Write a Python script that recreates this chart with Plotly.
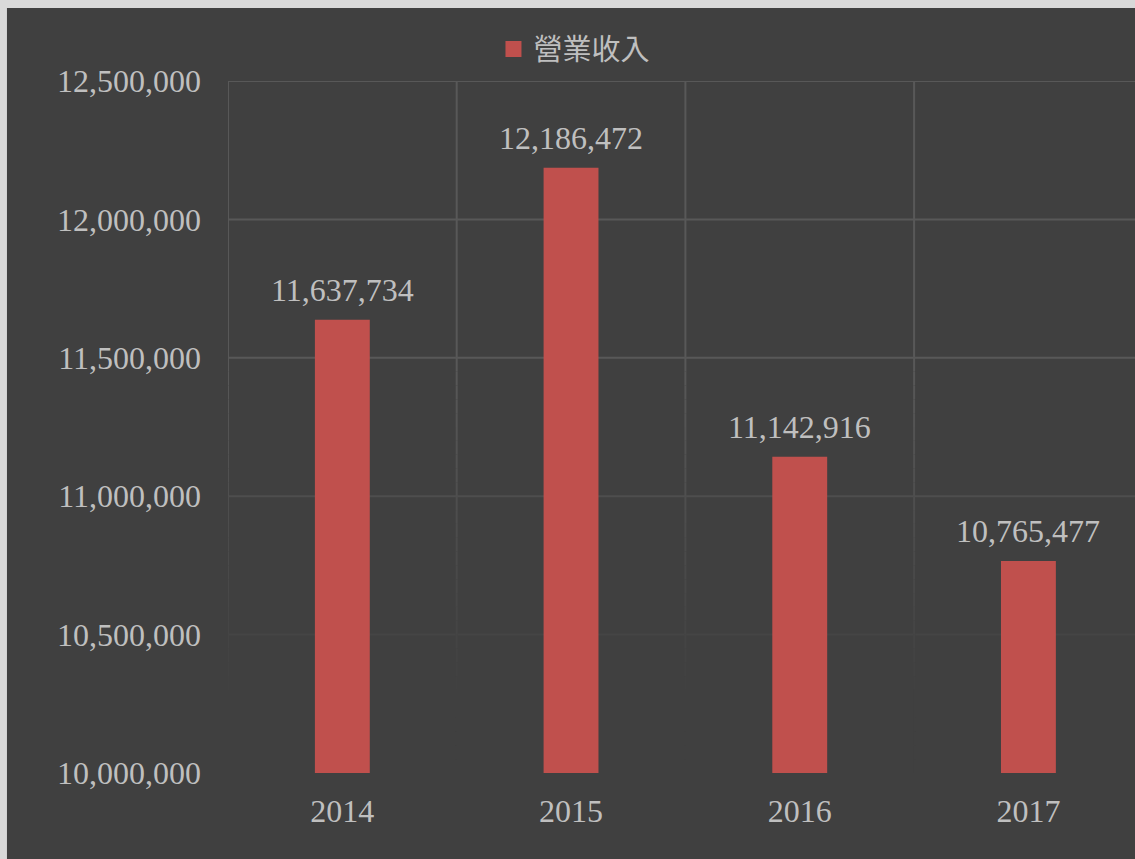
import plotly.graph_objects as go

years = ["2014", "2015", "2016", "2017"]
revenue = [11637734, 12186472, 11142916, 10765477]
series_name = "營業收入"
y_ticks = [10000000, 10500000, 11000000, 11500000, 12000000, 12500000]

BG = "#404040"
TXT = "#bfbfbf"
BAR = "#c0504d"
SERIF = "Liberation Serif, Times New Roman, serif"
Y_MIN, Y_MAX = 10000000, 12500000

# gridline fade (Excel gradient look): full strength above FADE_TOP, gone below FADE_BOT
FADE_TOP, FADE_BOT = 11500000, 10250000
BG_LEVEL, GRID_LEVEL = 64, 88


def grid_color(v):
    t = min(max((FADE_TOP - v) / (FADE_TOP - FADE_BOT), 0.0), 1.0)
    c = round(BG_LEVEL + (GRID_LEVEL - BG_LEVEL) * (1 - t))
    return f"rgb({c},{c},{c})"


fig = go.Figure()
fig.add_trace(go.Bar(
    x=years, y=revenue, marker=dict(color=BAR, line=dict(width=0)),
    showlegend=False, hoverinfo="x+y",
))
# legend entry (larger square swatch)
fig.add_trace(go.Scatter(
    x=[None], y=[None], mode="markers", name=series_name,
    marker=dict(symbol="square", size=18, color=BAR),
))

# data labels (category index positions on the category axis)
annotations = [
    dict(x=i, y=v, xref="x", yref="y", text=f"{v:,}", showarrow=False,
         yanchor="bottom", yshift=10, font=dict(family=SERIF, size=32, color=TXT))
    for i, v in enumerate(revenue)
]

shapes = []
# horizontal gridlines
for v in y_ticks:
    shapes.append(dict(type="line", xref="paper", yref="y", x0=0, x1=1, y0=v, y1=v,
                       line=dict(color=grid_color(v), width=2), layer="below"))
# vertical gridlines at category boundaries, drawn in segments so they fade
boundaries = [i - 0.5 for i in range(len(years) + 1)]
seg = 50000
edges = [FADE_TOP] + [FADE_TOP - seg * (k + 1) for k in range(int((FADE_TOP - Y_MIN) / seg))]
for xb in boundaries:
    shapes.append(dict(type="line", xref="x", yref="y", x0=xb, x1=xb, y0=FADE_TOP, y1=Y_MAX,
                       line=dict(color=grid_color(Y_MAX), width=2), layer="below"))
    for a, b in zip(edges[:-1], edges[1:]):
        shapes.append(dict(type="line", xref="x", yref="y", x0=xb, x1=xb, y0=b, y1=a,
                           line=dict(color=grid_color((a + b) / 2), width=2), layer="below"))
# light outer border (left and top)
shapes.append(dict(type="rect", xref="paper", yref="paper", x0=-0.26, x1=-0.2437, y0=-0.2, y1=1.2,
                   fillcolor="#d9d9d9", line=dict(width=0), layer="above"))
shapes.append(dict(type="rect", xref="paper", yref="paper", x0=-0.26, x1=1.1, y0=1.1055, y1=1.2,
                   fillcolor="#d9d9d9", line=dict(width=0), layer="above"))

fig.update_layout(
    width=1135, height=859,
    margin=dict(l=228, r=0, t=81, b=86, pad=0),
    paper_bgcolor=BG, plot_bgcolor=BG,
    bargap=0.76,
    showlegend=True,
    legend=dict(orientation="h", x=0.382, xanchor="center", y=1.046, yanchor="middle",
                font=dict(family="Noto Sans CJK TC", size=29, color=TXT),
                bgcolor="rgba(0,0,0,0)", itemsizing="trace"),
    shapes=shapes,
    annotations=annotations,
    xaxis=dict(type="category", range=[-0.5, 3.466],
               showgrid=False, ticks="", showline=False,
               zeroline=False, tickfont=dict(family=SERIF, size=32, color=TXT),
               ticklabelstandoff=16, fixedrange=True),
    yaxis=dict(range=[Y_MIN, Y_MAX], tickvals=y_ticks,
               ticktext=[f"{v:,}" for v in y_ticks],
               showgrid=False, ticks="", showline=False,
               zeroline=False, tickfont=dict(family=SERIF, size=32, color=TXT),
               ticklabelstandoff=26, fixedrange=True),
)

fig.write_html("out.html", config={"displayModeBar": False},
               post_script="document.body.style.margin='0';document.body.style.background='#404040';")
